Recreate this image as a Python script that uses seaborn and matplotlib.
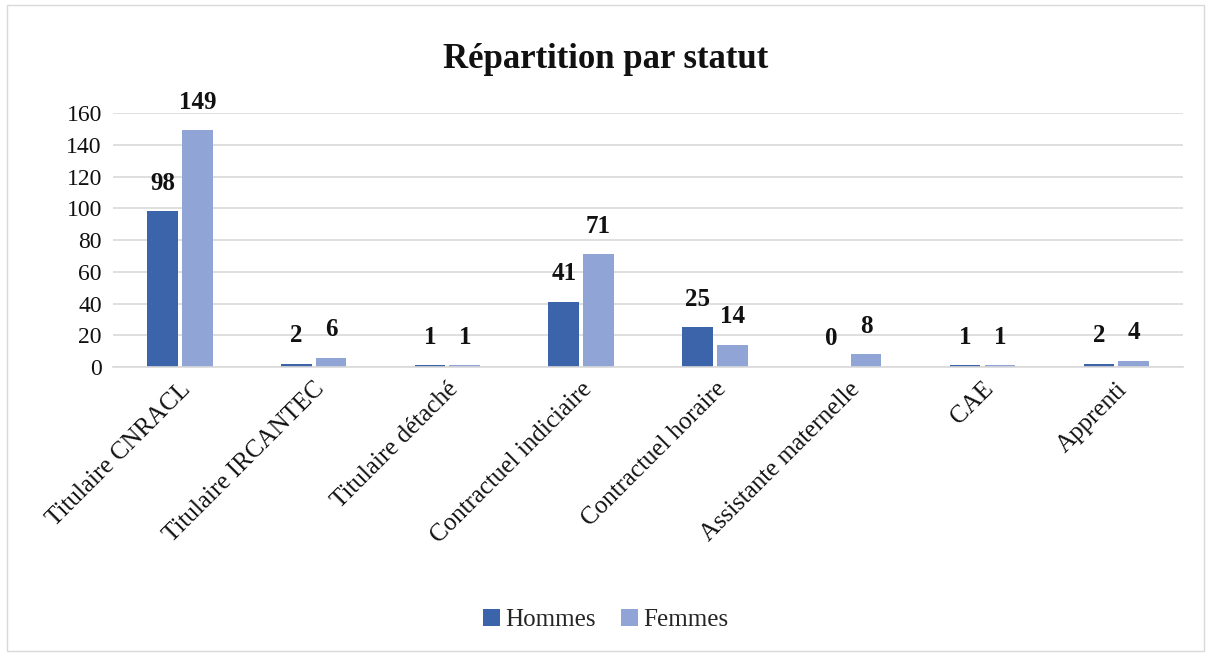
import matplotlib
matplotlib.use("Agg")
import matplotlib.pyplot as plt
import seaborn as sns
import pandas as pd
from matplotlib.patches import Rectangle

categories = ["Titulaire CNRACL", "Titulaire IRCANTEC", "Titulaire détaché",
              "Contractuel indiciaire", "Contractuel horaire",
              "Assistante maternelle", "CAE", "Apprenti"]
hommes = [98, 2, 1, 41, 25, 0, 1, 2]
femmes = [149, 6, 1, 71, 14, 8, 1, 4]
series = ["Hommes", "Femmes"]
colors = ["#3C64AA", "#90A5D5"]
yticks = [0, 20, 40, 60, 80, 100, 120, 140, 160]

df = pd.DataFrame({
    "cat": categories * 2,
    "val": hommes + femmes,
    "serie": [series[0]] * len(categories) + [series[1]] * len(categories),
})

sns.set_theme(style="white")
plt.rcParams["font.family"] = ["Liberation Serif", "DejaVu Serif"]

fig = plt.figure(figsize=(12.11, 6.56), dpi=100)
ax = fig.add_axes([0.0933, 0.4405, 0.8837, 0.3872])

sns.barplot(data=df, x="cat", y="val", hue="serie", palette=colors,
            width=0.52, gap=0.12, ax=ax, legend=True, saturation=1,
            linewidth=0, edgecolor="none")

for cont in ax.containers:
    ax.bar_label(cont, padding=12, fontsize=18, fontweight="bold", color="#111111")

ax.set_ylim(0, 160)
ax.set_yticks(yticks)
ax.set_yticklabels([str(t) for t in yticks], fontsize=17, color="#111111")
ax.yaxis.grid(True, color="#d9d9d9", linewidth=1.2)
ax.set_axisbelow(True)
for s in ["top", "right", "left"]:
    ax.spines[s].set_visible(False)
ax.spines["bottom"].set_color("#d9d9d9")
ax.spines["bottom"].set_linewidth(1.2)
ax.tick_params(axis="both", length=0, pad=8)
ax.set_xticks(range(len(categories)))
ax.set_xticklabels(categories, rotation=45, ha="right", rotation_mode="anchor",
                   fontsize=18, color="#111111")
ax.set_xlabel("")
ax.set_ylabel("")

fig.text(0.5, 0.91, "Répartition par statut", ha="center", va="center",
         fontsize=25, fontweight="bold", color="#111111")

leg = ax.legend(loc="center", bbox_to_anchor=(0.5, 0.055), bbox_transform=fig.transFigure,
                ncol=2, frameon=False, fontsize=18, handlelength=0.7, handleheight=0.7,
                handletextpad=0.2, columnspacing=1.0)

fig.patches.append(Rectangle((0.006, 0.008), 0.988, 0.984, transform=fig.transFigure,
                             fill=False, edgecolor="#d9d9d9", linewidth=1))

fig.savefig("out.png", dpi=100, facecolor="white")
